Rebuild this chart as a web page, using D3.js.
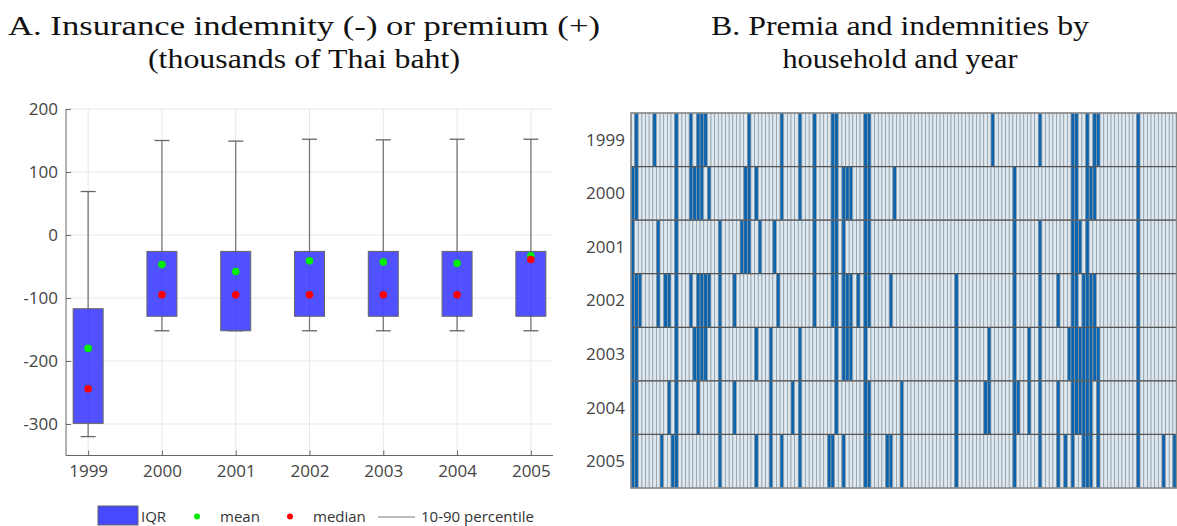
<!DOCTYPE html>
<html>
<head>
<meta charset="utf-8">
<script src="https://cdn.jsdelivr.net/npm/d3@7"></script>
<style>
  body { margin: 0; background: #fff; }
  svg { display: block; }
</style>
</head>
<body>
<script>
'use strict';

// ---- panel A data (thousands of Thai baht) ----
const years = ['1999', '2000', '2001', '2002', '2003', '2004', '2005'];
const p10 = [-320, -152, -152, -152, -152, -152, -152];
const q1 = [-299, -129, -152, -129, -129, -129, -129];
const q3 = [-117, -26, -26, -26, -26, -26, -26];
const p90 = [69, 150, 149, 152, 151, 152, 152];
const means = [-180, -47, -58, -41, -43, -45, -33];
const medians = [-244, -95, -95, -95, -95, -95, -39];
const yTicks = [200, 100, 0, -100, -200, -300];

// ---- panel B data: households paid an indemnity (dark cells), by year ----
const nHouseholds = 150;
const blue1999 = [1, 6, 12, 16, 18, 19, 20, 32, 41, 46, 50, 55, 56, 64, 65, 99, 112, 121, 122, 125, 127, 128, 139];
const blue2000 = [0, 1, 12, 16, 17, 18, 19, 21, 31, 32, 34, 41, 46, 50, 55, 56, 58, 59, 60, 64, 65, 72, 105, 121, 122, 125, 126, 127, 139];
const blue2001 = [0, 7, 12, 24, 30, 31, 32, 35, 39, 50, 55, 56, 58, 64, 65, 105, 112, 121, 122, 123, 125, 139];
const blue2002 = [0, 1, 2, 7, 9, 10, 12, 16, 18, 19, 20, 21, 24, 28, 40, 50, 55, 56, 58, 59, 60, 62, 64, 65, 71, 89, 105, 112, 117, 121, 122, 124, 125, 126, 127, 139];
const blue2003 = [0, 1, 12, 17, 18, 19, 20, 24, 34, 38, 46, 56, 58, 59, 60, 64, 89, 98, 105, 109, 112, 120, 121, 122, 123, 124, 125, 126, 127, 128, 139];
const blue2004 = [0, 1, 10, 12, 18, 24, 28, 38, 44, 46, 56, 64, 65, 74, 89, 97, 98, 105, 106, 109, 112, 117, 121, 122, 123, 124, 125, 126, 128, 139];
const blue2005 = [0, 1, 8, 11, 12, 24, 34, 38, 41, 46, 54, 55, 58, 64, 65, 70, 71, 74, 89, 105, 112, 117, 119, 121, 124, 125, 126, 128, 139, 146, 149];
const blueByYear = [blue1999, blue2000, blue2001, blue2002, blue2003, blue2004, blue2005];

const titleA = ['A. Insurance indemnity (-) or premium (+)', '(thousands of Thai baht)'];
const titleB = ['B. Premia and indemnities by', 'household and year'];

(function() {

  const svg = d3.select('body').append('svg')
    .attr('width', 1177)
    .attr('height', 526);

  const tickFont = '"Open Sans", sans-serif';
  const titleFont = '"Liberation Serif", "DejaVu Serif", serif';

  // ---------- titles (serif, widened a little to match the LaTeX look) ----------
  function drawTitle(lines, widths, cx) {
    lines.forEach((t, i) => {
      svg.append('text')
        .attr('x', cx)
        .attr('y', 35 + i * 33)
        .attr('text-anchor', 'middle')
        .attr('textLength', widths[i])
        .attr('lengthAdjust', 'spacingAndGlyphs')
        .style('font-family', titleFont)
        .style('font-size', '27px')
        .style('fill', '#111')
        .text(t);
    });
  }
  drawTitle(titleA, [592, 312], 304);
  drawTitle(titleB, [378, 235], 900);

  // ---------- panel A: box plot ----------
  const plotLeft = 66, plotRight = 553, plotTop = 109, plotBottom = 455.5;

  const x = d3.scalePoint()
    .domain(years)
    .range([plotLeft, plotRight])
    .padding(0.3);

  const y = d3.scaleLinear()
    .domain([-350, 200])
    .range([plotBottom, plotTop]);

  // grid lines
  svg.append('g').selectAll('line')
    .data(yTicks)
    .enter().append('line')
      .attr('x1', plotLeft).attr('x2', plotRight)
      .attr('y1', d => y(d)).attr('y2', d => y(d))
      .attr('stroke', '#e8e8e8').attr('stroke-width', 1);

  svg.append('g').selectAll('line')
    .data(years)
    .enter().append('line')
      .attr('x1', d => x(d)).attr('x2', d => x(d))
      .attr('y1', plotTop).attr('y2', plotBottom)
      .attr('stroke', '#e8e8e8').attr('stroke-width', 1);

  // axes (ticks point inward)
  const yAxis = svg.append('g')
    .attr('transform', `translate(${plotLeft},0)`)
    .call(d3.axisRight(y).tickValues(yTicks).tickSize(5).tickFormat(d => String(d)));
  yAxis.select('.domain').attr('d', `M0,${plotTop}V${plotBottom}`).attr('stroke', '#666');
  yAxis.selectAll('.tick line').attr('stroke', '#666');
  yAxis.selectAll('.tick text')
    .attr('x', -8)
    .attr('text-anchor', 'end')
    .style('font-family', tickFont)
    .style('font-size', '17px')
    .style('fill', '#444');

  const xAxis = svg.append('g')
    .attr('transform', `translate(0,${plotBottom})`)
    .call(d3.axisTop(x).tickSize(5));
  xAxis.select('.domain').attr('d', `M${plotLeft},0H${plotRight}`).attr('stroke', '#666');
  xAxis.selectAll('.tick line').attr('stroke', '#666');
  xAxis.selectAll('.tick text')
    .attr('y', 21)
    .attr('dy', 0)
    .style('font-family', tickFont)
    .style('font-size', '17px')
    .style('fill', '#444');

  const boxes = years.map((yr, i) => ({
    year: yr, p10: p10[i], q1: q1[i], q3: q3[i], p90: p90[i], mean: means[i], median: medians[i]
  }));

  const boxW = 30, capW = 15;
  const g = svg.append('g');

  // whiskers (10-90 percentile)
  g.selectAll('line.whisk')
    .data(boxes)
    .enter().append('line')
      .attr('class', 'whisk')
      .attr('x1', d => x(d.year)).attr('x2', d => x(d.year))
      .attr('y1', d => y(d.p90)).attr('y2', d => y(d.p10))
      .attr('stroke', '#777').attr('stroke-width', 1.3);
  ['p90', 'p10'].forEach(k => {
    g.selectAll('line.cap-' + k)
      .data(boxes)
      .enter().append('line')
        .attr('class', 'cap-' + k)
        .attr('x1', d => x(d.year) - capW / 2).attr('x2', d => x(d.year) + capW / 2)
        .attr('y1', d => y(d[k])).attr('y2', d => y(d[k]))
        .attr('stroke', '#666').attr('stroke-width', 1.3);
  });

  // IQR boxes
  g.selectAll('rect.iqr')
    .data(boxes)
    .enter().append('rect')
      .attr('class', 'iqr')
      .attr('x', d => x(d.year) - boxW / 2)
      .attr('y', d => y(d.q3))
      .attr('width', boxW)
      .attr('height', d => y(d.q1) - y(d.q3))
      .attr('fill', '#4848ff')
      .attr('fill-opacity', 0.95)
      .attr('stroke', '#666')
      .attr('stroke-width', 1);

  // mean and median markers
  g.selectAll('circle.mean')
    .data(boxes)
    .enter().append('circle')
      .attr('class', 'mean')
      .attr('cx', d => x(d.year)).attr('cy', d => y(d.mean))
      .attr('r', 3.8).attr('fill', '#00ee00');
  g.selectAll('circle.median')
    .data(boxes)
    .enter().append('circle')
      .attr('class', 'median')
      .attr('cx', d => x(d.year)).attr('cy', d => y(d.median))
      .attr('r', 3.8).attr('fill', '#ff0000');

  // legend
  const leg = svg.append('g').style('font-family', tickFont).style('font-size', '15px').style('fill', '#333');
  leg.append('rect').attr('x', 98).attr('y', 506).attr('width', 40).attr('height', 19)
    .attr('fill', '#4848ff').attr('stroke', '#666');
  leg.append('text').attr('x', 141).attr('y', 522).text('IQR');
  leg.append('circle').attr('cx', 197).attr('cy', 516.5).attr('r', 3).attr('fill', '#00ee00');
  leg.append('text').attr('x', 220).attr('y', 522).text('mean');
  leg.append('circle').attr('cx', 290).attr('cy', 516.5).attr('r', 3).attr('fill', '#ff0000');
  leg.append('text').attr('x', 313).attr('y', 522).text('median');
  leg.append('line').attr('x1', 378).attr('x2', 415).attr('y1', 517).attr('y2', 517)
    .attr('stroke', '#777').attr('stroke-width', 1);
  leg.append('text').attr('x', 421).attr('y', 522).text('10-90 percentile');

  // ---------- panel B: household x year grid ----------
  const hx = d3.scaleBand()
    .domain(d3.range(nHouseholds))
    .range([631, 1176.5]);

  const hy = d3.scaleBand()
    .domain(years)
    .range([113, 488]);

  const cells = [];
  years.forEach((yr, i) => {
    const set = new Set(blueByYear[i]);
    for (let h = 0; h < nHouseholds; h++) {
      cells.push({ year: yr, hh: h, paid: set.has(h) });
    }
  });

  const grid = svg.append('g');
  grid.selectAll('rect')
    .data(cells)
    .enter().append('rect')
      .attr('x', d => hx(d.hh))
      .attr('y', d => hy(d.year))
      .attr('width', hx.bandwidth())
      .attr('height', hy.bandwidth())
      .attr('fill', d => d.paid ? '#0b64ad' : '#dde8f1')
      .attr('stroke', '#8d979f')
      .attr('stroke-width', 0.7);

  // row separators and frame
  grid.selectAll('line')
    .data(years.slice(1))
    .enter().append('line')
      .attr('x1', 631).attr('x2', 1176.5)
      .attr('y1', d => hy(d)).attr('y2', d => hy(d))
      .attr('stroke', '#555').attr('stroke-width', 1.2);
  grid.append('rect')
    .attr('x', 631).attr('y', 113)
    .attr('width', 545.5).attr('height', 375)
    .attr('fill', 'none').attr('stroke', '#888').attr('stroke-width', 1.5);

  // year labels
  svg.append('g').selectAll('text')
    .data(years)
    .enter().append('text')
      .attr('x', 625)
      .attr('y', d => hy(d) + hy.bandwidth() / 2)
      .attr('dy', '0.35em')
      .attr('text-anchor', 'end')
      .style('font-family', tickFont)
      .style('font-size', '17px')
      .style('fill', '#444')
      .text(d => d);

})();
</script>
</body>
</html>
